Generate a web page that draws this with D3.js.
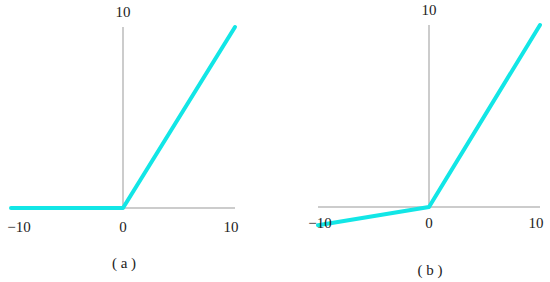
<!DOCTYPE html>
<html><head><meta charset="utf-8">
<script src="https://cdn.jsdelivr.net/npm/d3@7"></script>
<style>body{margin:0;background:#fff}svg{display:block}text{font-family:"Liberation Serif","Times New Roman",Times,serif}</style>
</head><body>
<script>
// data
const xs = [-10, 0, 10];
const reluY = [0, 0, 10];
const leakyY = [-1, 0, 10];
const xTickLabels = ["\u221210", "0", "10"];
const yTickLabel = "10";
const panelLabels = ["( a )", "( b )"];

const W = 550, H = 282;
const svg = d3.select("body").append("svg").attr("width", W).attr("height", H);

const panels = [
  {ys: reluY, x0: 11, x1: 235, yTop: 27, yZero: 208, label: panelLabels[0],
   topLabelY: 17, tickY: 232, capY: 268, leftTickX: 19},
  {ys: leakyY, x0: 318, x1: 540, yTop: 25, yZero: 207, label: panelLabels[1],
   topLabelY: 15, tickY: 228, capY: 275, leftTickX: 320}
];

panels.forEach(p => {
  const x = d3.scaleLinear().domain([-10, 10]).range([p.x0, p.x1]);
  const y = d3.scaleLinear().domain([0, 10]).range([p.yZero, p.yTop]);
  const g = svg.append("g");
  // axes
  g.append("line").attr("x1", x(-10)).attr("x2", x(10)).attr("y1", y(0)).attr("y2", y(0))
    .attr("stroke", "#999").attr("stroke-width", 1);
  g.append("line").attr("x1", x(0)).attr("x2", x(0)).attr("y1", y(0)).attr("y2", y(10))
    .attr("stroke", "#999").attr("stroke-width", 1);
  // curve
  const pts = xs.map((v, i) => [x(v), y(p.ys[i])]);
  g.append("path").attr("d", d3.line()(pts)).attr("fill", "none")
    .attr("stroke", "#12e6e6").attr("stroke-width", 4).attr("stroke-linejoin", "round")
    .attr("stroke-linecap", "round");
  // labels
  const t = (tx, ty, s) => g.append("text").attr("x", tx).attr("y", ty).text(s)
    .attr("text-anchor", "middle").attr("font-size", 15).attr("fill", "#222");
  t(x(0), p.topLabelY, yTickLabel);
  t(p.leftTickX, p.tickY, xTickLabels[0]);
  t(x(0), p.tickY, xTickLabels[1]);
  t(x(10) - 4, p.tickY, xTickLabels[2]);
  t(x(0) + 1, p.capY, p.label);
});
</script>
</body></html>
